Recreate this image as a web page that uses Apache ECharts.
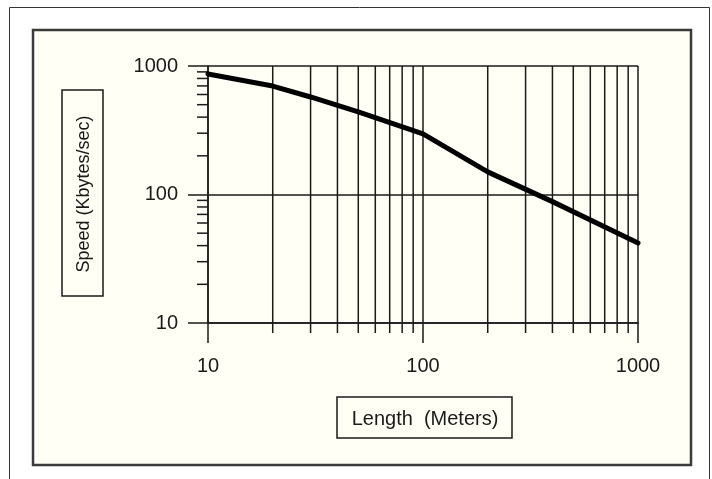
<!DOCTYPE html>
<html>
<head>
<meta charset="utf-8">
<script src="https://cdn.jsdelivr.net/npm/echarts@6/dist/echarts.min.js"></script>
<style>
html, body { margin: 0; padding: 0; background: #fff; }
#chart { width: 712px; height: 479px; }
</style>
</head>
<body>
<div id="chart"></div>
<script>
// values
const lengths = [10, 20, 30, 50, 100, 200, 400, 1000];
const speeds = [867, 698, 574, 439, 296, 150, 88, 42];
const xMinor = [20, 30, 40, 50, 60, 70, 80, 90, 200, 300, 400, 500, 600, 700, 800, 900];
const yMinor = [20, 30, 40, 50, 60, 70, 80, 90, 200, 300, 400, 500, 600, 700, 800, 900];
const xMin = 10, xMax = 1000;
const yMin = 10, yMax = 1000;
const xTitle = 'Length  (Meters)';
const yTitle = 'Speed (Kbytes/sec)';

const ink = '#1a1a1a';
const paper = '#fffff6';
const font = '"Liberation Sans", Arial, sans-serif';

let myChart = echarts.init(document.getElementById('chart'));

let option = {
    backgroundColor: '#fff',
    animation: false,
    grid: {
        left: 208,
        right: 74,
        top: 66,
        bottom: 156
    },
    graphic: [
        // outer frame
        { type: 'rect', z: -20, silent: true,
          shape: { x: 9.5, y: 7.5, width: 700, height: 480 },
          style: { fill: '#fff', stroke: '#333', lineWidth: 1 } },
        // cream panel
        { type: 'rect', z: -10, silent: true,
          shape: { x: 33, y: 30, width: 658, height: 435 },
          style: { fill: paper, stroke: '#3a3a3a', lineWidth: 2.5 } },
        // y title box
        { type: 'rect', silent: true,
          shape: { x: 62, y: 90, width: 41, height: 206 },
          style: { fill: paper, stroke: ink, lineWidth: 1.5 } },
        { type: 'text', silent: true, x: 84, y: 194, rotation: Math.PI / 2,
          style: { text: yTitle, font: '18px ' + font, fill: ink, align: 'center', verticalAlign: 'middle' } },
        // x title box
        { type: 'rect', silent: true,
          shape: { x: 337, y: 397, width: 175, height: 41 },
          style: { fill: paper, stroke: ink, lineWidth: 1.5 } },
        { type: 'text', silent: true, x: 425, y: 419,
          style: { text: xTitle, font: '20px ' + font, fill: ink, align: 'center', verticalAlign: 'middle' } }
    ],
    xAxis: {
        type: 'log',
        logBase: 10,
        min: xMin,
        max: xMax,
        axisLine: { show: true, lineStyle: { color: ink, width: 1.5 } },
        axisTick: { show: true, length: 20, lineStyle: { color: ink, width: 1.5 } },
        splitLine: { show: true, lineStyle: { color: ink, width: 1.5 } },
        minorTick: { show: false },
        axisLabel: { fontSize: 20, fontFamily: font, color: ink, margin: 33, formatter: v => String(v) }
    },
    yAxis: {
        type: 'log',
        logBase: 10,
        min: yMin,
        max: yMax,
        axisLine: { show: true, lineStyle: { color: ink, width: 1.5 } },
        axisTick: { show: true, length: 20, lineStyle: { color: ink, width: 1.5 } },
        splitLine: { show: true, lineStyle: { color: ink, width: 1.5 } },
        minorTick: { show: false },
        axisLabel: { fontSize: 20, fontFamily: font, color: ink, margin: 30, formatter: v => String(v) }
    },
    series: [
        {
            // vertical minor grid lines, running 10px past the x axis
            type: 'custom',
            silent: true,
            z: 1,
            data: xMinor.map(v => [v, yMin]),
            encode: { x: 0, y: 1 },
            renderItem: (params, api) => {
                let top = api.coord([api.value(0), yMax]);
                let bot = api.coord([api.value(0), yMin]);
                return {
                    type: 'line',
                    shape: { x1: top[0], y1: top[1], x2: bot[0], y2: bot[1] + 10 },
                    style: { stroke: ink, lineWidth: 1.5 }
                };
            }
        },
        {
            // short minor ticks left of the y axis
            type: 'custom',
            silent: true,
            z: 1,
            data: yMinor.map(v => [xMin, v]),
            encode: { x: 0, y: 1 },
            renderItem: (params, api) => {
                let p = api.coord([xMin, api.value(1)]);
                return {
                    type: 'line',
                    shape: { x1: p[0] - 11, y1: p[1], x2: p[0], y2: p[1] },
                    style: { stroke: ink, lineWidth: 1.5 }
                };
            }
        },
        {
            type: 'line',
            z: 3,
            data: lengths.map((l, i) => [l, speeds[i]]),
            symbol: 'none',
            lineStyle: { color: '#000', width: 5, join: 'round', cap: 'round' }
        }
    ]
};
myChart.setOption(option);
</script>
</body>
</html>
